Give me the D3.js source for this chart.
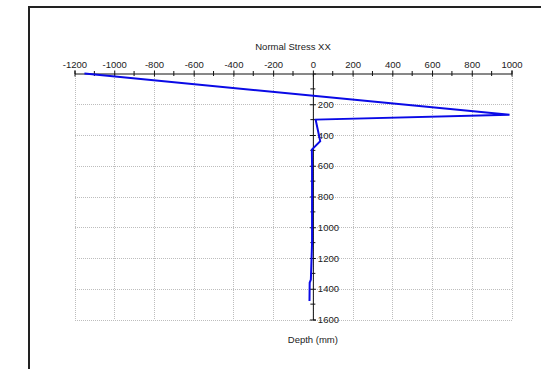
<!DOCTYPE html>
<html>
<head>
<meta charset="utf-8">
<script src="https://cdn.jsdelivr.net/npm/d3@7"></script>
<style>
  body { margin: 0; background: #fff; }
  text { font-family: "Liberation Sans", Arial, sans-serif; fill: #222; }
</style>
</head>
<body>
<div id="chart"></div>
<script>
// stress profile
const depth = [0, 268, 300, 440, 495, 600, 800, 1000, 1100, 1340, 1360, 1480]
const stress = [-1150, 990, 14, 37, -5, -4, -4, -4, -4, -10, -16, -17]
const xMajor = [-1200, -1000, -800, -600, -400, -200, 0, 200, 400, 600, 800, 1000]
const yMajor = [200, 400, 600, 800, 1000, 1200, 1400, 1600]
const xTitle = 'Normal Stress XX'
const yTitle = 'Depth (mm)'

const W = 541, H = 369
const svg = d3.select('#chart').append('svg')
  .attr('width', W).attr('height', H)

// outer frame, runs off the right and bottom of the picture
svg.append('rect')
  .attr('x', 29).attr('y', 7)
  .attr('width', 600).attr('height', 400)
  .attr('fill', 'none')
  .attr('stroke', '#222')
  .attr('stroke-width', 2)

const x = d3.scaleLinear().domain([-1200, 1000]).range([74.5, 511.5])
const y = d3.scaleLinear().domain([0, 1600]).range([73.5, 319.5])

const data = depth.map((d, i) => ({ depth: d, stress: stress[i] }))
const plain = d => String(d)

// dotted grid
const grid = svg.append('g')
  .attr('stroke', '#bdbdbd')
  .attr('stroke-dasharray', '1,1')
  .attr('shape-rendering', 'crispEdges')
xMajor.forEach(v => {
  grid.append('line')
    .attr('x1', Math.round(x(v)) + 0.5).attr('x2', Math.round(x(v)) + 0.5)
    .attr('y1', y(0)).attr('y2', y(1600))
})
yMajor.forEach(v => {
  grid.append('line')
    .attr('x1', x(-1200)).attr('x2', x(1000))
    .attr('y1', Math.round(y(v)) + 0.5).attr('y2', Math.round(y(v)) + 0.5)
})

// x axis on top
const minorX = d3.range(-1100, 1000, 200)
const gx = svg.append('g')
  .attr('transform', `translate(0,${y(0)})`)
  .call(d3.axisTop(x).tickValues(xMajor).tickFormat(plain).tickSize(3).tickPadding(3))
gx.select('.domain').attr('stroke', '#111')
gx.selectAll('.tick line').attr('y1', 3).attr('y2', -3).attr('stroke', '#111')
gx.selectAll('.tick text')
  .style('font-size', '9.5px')
  .style('font-family', '"Liberation Sans", Arial, sans-serif')
  .attr('fill', '#222')
gx.selectAll('.minor').data(minorX).enter().append('line')
  .attr('x1', d => x(d)).attr('x2', d => x(d))
  .attr('y1', -2.5).attr('y2', 2.5)
  .attr('stroke', '#111')

// y axis through zero
const minorY = d3.range(100, 1600, 200)
const gy = svg.append('g')
  .attr('transform', `translate(${x(0)},0)`)
  .call(d3.axisRight(y).tickValues(yMajor).tickFormat(plain).tickSize(3).tickPadding(2))
gy.select('.domain').attr('stroke', '#111')
gy.selectAll('.tick line').attr('x1', -3).attr('x2', 3).attr('stroke', '#111')
gy.selectAll('.tick text')
  .style('font-size', '9.5px')
  .style('font-family', '"Liberation Sans", Arial, sans-serif')
  .attr('fill', '#222')
gy.selectAll('.minor').data(minorY).enter().append('line')
  .attr('x1', -2.5).attr('x2', 2.5)
  .attr('y1', d => y(d)).attr('y2', d => y(d))
  .attr('stroke', '#111')

// titles
svg.append('text')
  .attr('x', (x(-1200) + x(1000)) / 2)
  .attr('y', 50)
  .attr('text-anchor', 'middle')
  .style('font-size', '9.5px')
  .text(xTitle)

svg.append('text')
  .attr('x', x(0))
  .attr('y', 343)
  .attr('text-anchor', 'middle')
  .style('font-size', '9.5px')
  .text(yTitle)

// profile line
const line = d3.line()
  .x(d => x(d.stress))
  .y(d => y(d.depth))

svg.append('path')
  .datum(data)
  .attr('d', line)
  .attr('fill', 'none')
  .attr('stroke', '#0a0ae6')
  .attr('stroke-width', 2)
  .attr('stroke-linejoin', 'miter')
</script>
</body>
</html>
